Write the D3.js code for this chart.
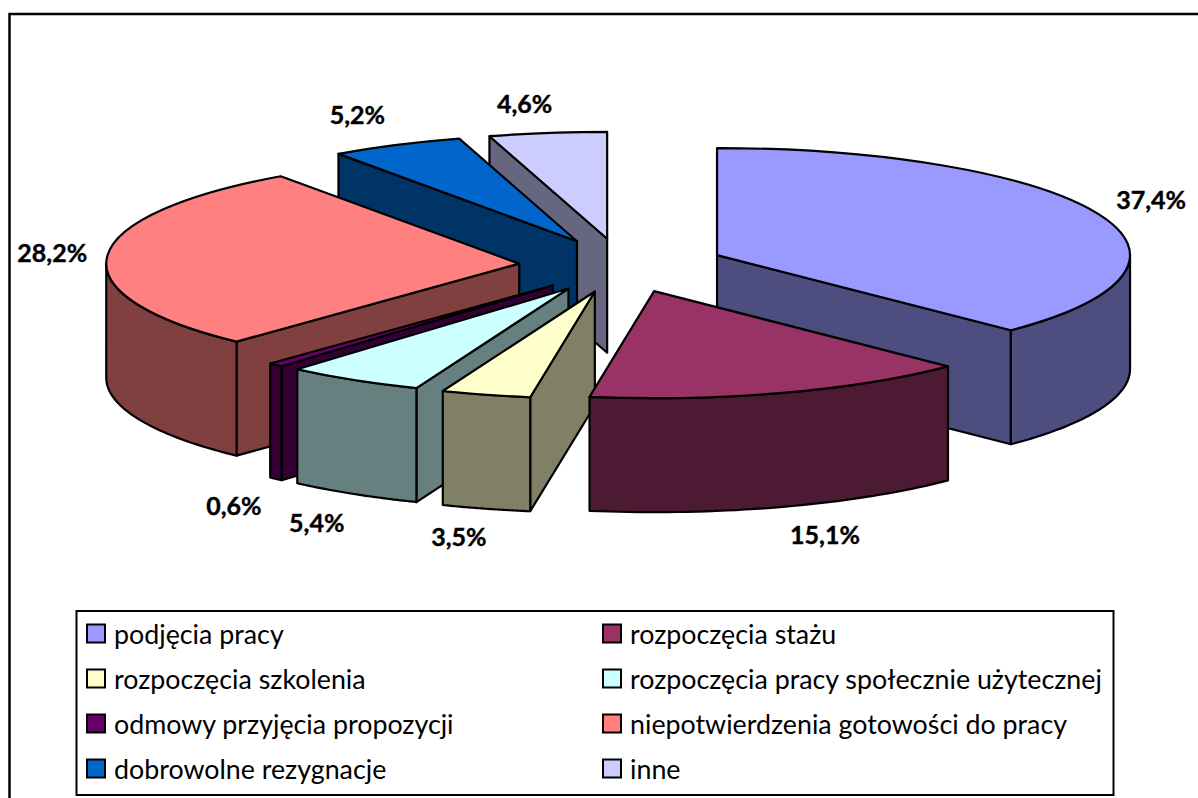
<!DOCTYPE html>
<html>
<head>
<meta charset="utf-8">
<script src="https://cdn.jsdelivr.net/npm/d3@7"></script>
<style>
    html, body { margin: 0; padding: 0; background: #fff; overflow: hidden; }
    svg { display: block; }
</style>
</head>
<body>
<div id="chart"></div>
<script>
// data
let categories = [
    "podjęcia pracy",
    "rozpoczęcia stażu",
    "rozpoczęcia szkolenia",
    "rozpoczęcia pracy społecznie użytecznej",
    "odmowy przyjęcia propozycji",
    "niepotwierdzenia gotowości do pracy",
    "dobrowolne rezygnacje",
    "inne"
];
let values = [37.4, 15.1, 3.5, 5.4, 0.6, 28.2, 5.2, 4.6];
let colors = ["#9999ff", "#993366", "#ffffcc", "#ccffff", "#660066", "#ff8080", "#0066cc", "#ccccff"];

// layout of the fake 3d pie
let config = {
    width: 1198,
    height: 798,
    cx: 622,
    cy: 265.5,
    rx: 413,
    ry: 107,
    explodeX: 103,
    explodeY: 27,
    depth: 114,
    stroke: 2.2,
    labelFont: "Lato, 'Open Sans', sans-serif",
    labelFontSize: 25,
    legendFontSize: 26.8
};

// back to front, so nearer slices cover the ones behind
let drawOrder = [7, 6, 0, 5, 4, 3, 2, 1];
// label offset from the outer edge of the slice, same order as values
let labelNudge = [[53, -14], [42, 142], [-27, 142], [-37, 143], [-42, 141], [-55, -3], [-39, -30], [-23, -29]];

let svg = d3.select("#chart").append("svg")
    .attr("width", config.width)
    .attr("height", config.height);

// chart frame, right and bottom sides fall outside the picture
svg.append("rect")
    .attr("x", 9.5)
    .attr("y", 14)
    .attr("width", config.width + 20)
    .attr("height", config.height + 20)
    .attr("fill", "#fff")
    .attr("stroke", "#000")
    .attr("stroke-width", 2.5);

let pie = d3.pie().sort(null).value(d => d);
let slices = pie(values);

let arc = d3.arc().innerRadius(0).outerRadius(config.rx);
let line = d3.line();

function half(color) {
    let c = d3.rgb(color);
    return d3.rgb(c.r / 2, c.g / 2, c.b / 2).formatHex();
}

function apexOf(d) {
    let mid = (d.startAngle + d.endAngle) / 2;
    return [config.cx + config.explodeX * Math.sin(mid), config.cy - config.explodeY * Math.cos(mid)];
}

function rim(apex, angle, drop) {
    return [apex[0] + config.rx * Math.sin(angle), apex[1] - config.ry * Math.cos(angle) + drop];
}

// radial wall, only drawn if it faces the viewer
function wall(g, d, apex, angle, color) {
    let a = rim(apex, angle, 0);
    let b = rim(apex, angle, config.depth);
    let points = [apex, a, b, [apex[0], apex[1] + config.depth]];
    g.append("path")
        .attr("d", line(points) + "Z")
        .attr("fill", color);
}

drawOrder.forEach(function (i) {
    let d = slices[i];
    let apex = apexOf(d);
    let side = half(colors[i]);

    let g = svg.append("g")
        .attr("stroke", "#000")
        .attr("stroke-width", config.stroke)
        .attr("stroke-linejoin", "round");

    if (Math.sin(d.startAngle) < -0.001) wall(g, d, apex, d.startAngle, side);
    if (Math.sin(d.endAngle) > 0.001) wall(g, d, apex, d.endAngle, side);

    // outer wall, only the front half of the ellipse
    let from = Math.max(d.startAngle, Math.PI / 2);
    let to = Math.min(d.endAngle, Math.PI * 1.5);
    if (to > from) {
        let angles = d3.range(0, 41).map(t => from + (to - from) * t / 40);
        let top = angles.map(a => rim(apex, a, 0));
        let bottom = angles.map(a => rim(apex, a, config.depth)).reverse();
        g.append("path")
            .attr("d", line(top.concat(bottom)) + "Z")
            .attr("fill", side);
    }

    // top face
    g.append("path")
        .attr("d", arc(d))
        .attr("transform", "translate(" + apex[0] + "," + apex[1] + ") scale(1," + config.ry / config.rx + ")")
        .attr("vector-effect", "non-scaling-stroke")
        .attr("fill", colors[i]);
});

// data labels
svg.selectAll(".label")
    .data(slices)
    .enter().append("text")
    .attr("class", "label")
    .attr("x", function (d, i) {
        let mid = (d.startAngle + d.endAngle) / 2;
        return apexOf(d)[0] + config.rx * Math.sin(mid) + labelNudge[i][0];
    })
    .attr("y", function (d, i) {
        let mid = (d.startAngle + d.endAngle) / 2;
        return apexOf(d)[1] - config.ry * Math.cos(mid) + labelNudge[i][1];
    })
    .attr("dy", "0.35em")
    .attr("text-anchor", "middle")
    .attr("fill", "#000")
    .attr("stroke", "#000")
    .attr("stroke-width", 0.4)
    .style("font-family", config.labelFont)
    .style("font-size", config.labelFontSize + "px")
    .style("font-weight", "700")
    .text(d => d3.format(".1f")(d.value).replace(".", ",") + "%");

// legend
let legend = svg.append("g");
legend.append("rect")
    .attr("x", 76.5)
    .attr("y", 611)
    .attr("width", 1037)
    .attr("height", 184)
    .attr("fill", "#fff")
    .attr("stroke", "#000")
    .attr("stroke-width", 2);

let columnX = d3.scalePoint().domain([0, 1]).range([87, 603]);
let rowY = d3.scalePoint().domain([0, 1, 2, 3]).range([624.5, 759.5]);

categories.forEach(function (name, i) {
    let x = columnX(i % 2);
    let y = rowY(Math.floor(i / 2));
    legend.append("rect")
        .attr("x", x)
        .attr("y", y)
        .attr("width", 18)
        .attr("height", 18)
        .attr("fill", colors[i])
        .attr("stroke", "#000")
        .attr("stroke-width", 2);
    legend.append("text")
        .attr("x", x + 27)
        .attr("y", y + 19)
        .style("font-family", config.labelFont)
        .style("font-size", config.legendFontSize + "px")
        .text(name);
});
</script>
</body>
</html>
